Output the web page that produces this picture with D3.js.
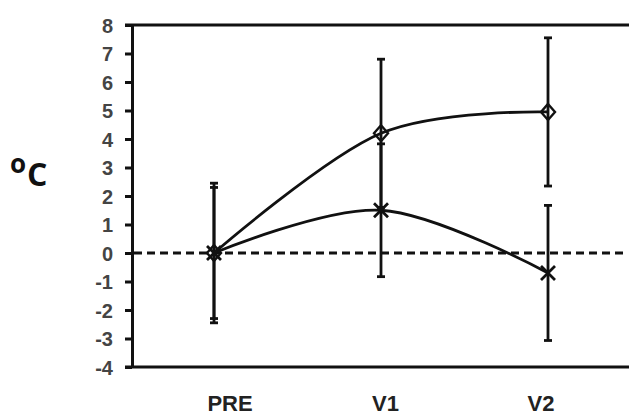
<!DOCTYPE html>
<html><head><meta charset="utf-8">
<script src="https://cdn.jsdelivr.net/npm/d3@7"></script>
<style>body{margin:0;background:#fff}svg{display:block}</style>
</head><body>
<svg id="c" width="629" height="416"></svg>
<script>
const categories = ["PRE","V1","V2"];
const diamondValues = [0, 4.2, 4.95];
const diamondErrors = [2.45, 2.6, 2.6];
const crossValues = [0, 1.5, -0.7];
const crossErrors = [2.3, 2.33, 2.37];
const yTicks = [-4,-3,-2,-1,0,1,2,3,4,5,6,7,8];

const svg = d3.select("#c");
const y = d3.scaleLinear().domain([-4, 8]).range([367, 25]);
const x = d3.scalePoint().domain(categories).range([214, 548]);
const xLab = d3.scalePoint().domain(categories).range([230, 541]);

// frame top & bottom
svg.append("line").attr("x1",125).attr("x2",629).attr("y1",y(8)).attr("y2",y(8)).attr("stroke","#111").attr("stroke-width",3);
svg.append("line").attr("x1",125).attr("x2",629).attr("y1",y(-4)).attr("y2",y(-4)).attr("stroke","#111").attr("stroke-width",3);

// y axis
const yAxis = d3.axisLeft(y).tickValues(yTicks).tickSize(7).tickSizeOuter(0).tickPadding(12).tickFormat(d=>String(d));
const gy = svg.append("g").attr("transform","translate(132,0)").call(yAxis);
gy.select(".domain").attr("stroke","#111").attr("stroke-width",3);
gy.selectAll(".tick line").attr("stroke","#111").attr("stroke-width",3);
gy.selectAll(".tick text").attr("font-family","Liberation Sans, Arial, sans-serif").attr("font-weight","bold").attr("font-size",20).attr("fill","#444").attr("dy","0.36em");

// zero dashed line
svg.append("line").attr("x1",134).attr("x2",627).attr("y1",y(0)).attr("y2",y(0)).attr("stroke","#111").attr("stroke-width",3).attr("stroke-dasharray","8,5");

// x labels
svg.selectAll(".xl").data(categories).enter().append("text")
  .attr("x",d=>xLab(d)).attr("y",411).attr("text-anchor","middle")
  .attr("font-family","Liberation Sans, Arial, sans-serif").attr("font-weight","bold").attr("font-size",22).attr("fill","#222")
  .text(d=>d);

// y label
const yl = svg.append("text").attr("font-family","Open Sans, sans-serif").attr("font-weight","bold").attr("fill","#111");
yl.append("tspan").attr("x",10).attr("y",173).attr("font-size",26).text("o");
yl.append("tspan").attr("x",27).attr("y",186).attr("font-size",32).text("C");

function errBars(vals, errs){
  const g = svg.append("g").attr("stroke","#111").attr("stroke-width",2.8);
  categories.forEach((c,i)=>{
    const cx = x(c), t = y(vals[i]+errs[i]), b = y(vals[i]-errs[i]);
    g.append("line").attr("x1",cx).attr("x2",cx).attr("y1",t).attr("y2",b);
    g.append("line").attr("x1",cx-4).attr("x2",cx+4).attr("y1",t).attr("y2",t);
    g.append("line").attr("x1",cx-4).attr("x2",cx+4).attr("y1",b).attr("y2",b);
  });
}
errBars(diamondValues, diamondErrors);
errBars(crossValues, crossErrors);

const line = d3.line().x((d,i)=>x(categories[i])).y(d=>y(d)).curve(d3.curveCardinal.tension(0));
svg.append("path").attr("d",line(diamondValues)).attr("fill","none").attr("stroke","#111").attr("stroke-width",2.8);
svg.append("path").attr("d",line(crossValues)).attr("fill","none").attr("stroke","#111").attr("stroke-width",2.8);

// diamond markers
svg.selectAll(".dm").data(diamondValues).enter().append("path")
  .attr("transform",(d,i)=>`translate(${x(categories[i])},${y(d)})`)
  .attr("d","M0,-8L7,0L0,8L-7,0Z").attr("fill","none").attr("stroke","#111").attr("stroke-width",2.4);
// cross markers
svg.selectAll(".cm").data(crossValues).enter().append("path")
  .attr("transform",(d,i)=>`translate(${x(categories[i])},${y(d)})`)
  .attr("d","M-7,-7L7,7M-7,7L7,-7").attr("fill","none").attr("stroke","#111").attr("stroke-width",2.8);
</script>
</body></html>
